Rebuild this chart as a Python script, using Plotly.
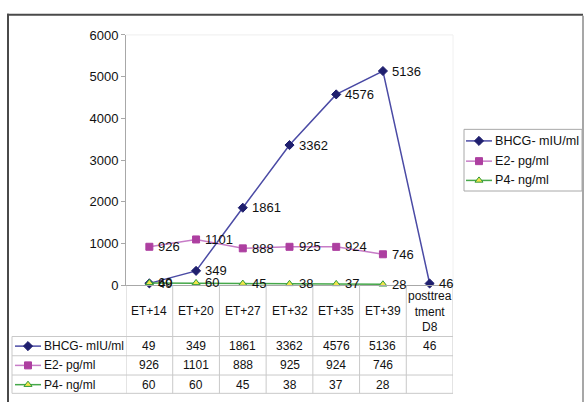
import plotly.graph_objects as go

W, H = 585, 410

categories = ["ET+14", "ET+20", "ET+27", "ET+32", "ET+35", "ET+39", "posttreatment D8"]
header_labels = ["ET+14", "ET+20", "ET+27", "ET+32", "ET+35", "ET+39", "posttrea<br>tment<br>D8"]
series_names = ["BHCG- mIU/ml", "E2- pg/ml", "P4- ng/ml"]
bhcg = [49, 349, 1861, 3362, 4576, 5136, 46]
e2 = [926, 1101, 888, 925, 924, 746, None]
p4 = [60, 60, 45, 38, 37, 28, None]
y_ticks = [0, 1000, 2000, 3000, 4000, 5000, 6000]

FONT = "Liberation Sans, Arial, sans-serif"
line_colors = ["#4b4ba5", "#c77cc7", "#45a84a"]
marker_colors = ["#1f1f6e", "#ad3fa0", "#f2e64a"]
symbols = ["diamond", "square", "triangle-up"]
marker_lines = [None, None, "#2f9a3a"]
series_vals = [bhcg, e2, p4]


def px(x):
    return x / W


def py(y):
    return 1 - y / H


fig = go.Figure()

annotations = []

for name, vals, lc, mc, sym, ml in zip(series_names, series_vals, line_colors, marker_colors, symbols, marker_lines):
    fig.add_trace(go.Scatter(
        x=categories, y=vals, name=name, mode="lines+markers",
        line=dict(color=lc, width=1.5),
        marker=dict(symbol=sym, size=7, color=mc,
                    line=dict(color=ml if ml else mc, width=1)),
        cliponaxis=False, showlegend=False,
        xaxis="x", yaxis="y",
    ))
    for cat, v in zip(categories, vals):
        if v is None:
            continue
        annotations.append(dict(x=cat, y=v, xref="x", yref="y", text=str(v), showarrow=False,
                                xanchor="left", yanchor="middle", xshift=7,
                                font=dict(family=FONT, size=13, color="#111")))


def add_key(x0, x1, ky, lc, mc, sym, ml):
    fig.add_trace(go.Scatter(
        x=[x0, x1], y=[ky, ky], mode="lines", line=dict(color=lc, width=1.5),
        showlegend=False, hoverinfo="skip", xaxis="x2", yaxis="y2"))
    fig.add_trace(go.Scatter(
        x=[(x0 + x1) / 2], y=[ky], mode="markers",
        marker=dict(symbol=sym, size=7, color=mc, line=dict(color=ml if ml else mc, width=1)),
        showlegend=False, hoverinfo="skip", xaxis="x2", yaxis="y2"))


# keys inside the data table and in the legend box (decorative, pixel axis)
key_rows = [352, 372, 392]
legend_rows = [139, 160, 180]
for name, lc, mc, sym, ml, ky, ly in zip(series_names, line_colors, marker_colors, symbols, marker_lines,
                                          key_rows, legend_rows):
    add_key(15, 41, ky, lc, mc, sym, ml)
    add_key(466, 492, ly, lc, mc, sym, ml)
    annotations.append(dict(x=px(493), xref="paper", y=py(ly), yref="paper", text=name, showarrow=False,
                            font=dict(family=FONT, size=12.6, color="#111"), xanchor="left", yanchor="middle"))

plot_l, plot_r, plot_t, plot_b = 126, 453, 29, 289
row_lines = [342, 362, 382, 401]
grid = "#c9c9c9"

shapes = []
# outer frame
shapes.append(dict(type="line", xref="paper", yref="paper", x0=px(8), x1=px(8), y0=py(7), y1=py(410),
                   line=dict(color="#4a4a4a", width=2)))
shapes.append(dict(type="line", xref="paper", yref="paper", x0=px(7), x1=px(583), y0=py(8), y1=py(8),
                   line=dict(color="#4a4a4a", width=2)))
shapes.append(dict(type="line", xref="paper", yref="paper", x0=px(583), x1=px(583), y0=py(9), y1=py(410),
                   line=dict(color="#8a8a8a", width=1.5)))
# legend box
shapes.append(dict(type="rect", xref="paper", yref="paper", x0=px(464), x1=px(582), y0=py(127), y1=py(191),
                   line=dict(color="#a8a8a8", width=1)))
# faint plot area edges
shapes.append(dict(type="line", xref="paper", yref="paper", x0=px(plot_l), x1=px(plot_r), y0=py(plot_t), y1=py(plot_t),
                   line=dict(color="#eeeeee", width=1)))
shapes.append(dict(type="line", xref="paper", yref="paper", x0=px(plot_r), x1=px(plot_r), y0=py(plot_t), y1=py(plot_b),
                   line=dict(color="#f0f0f0", width=1)))
# table horizontal lines
for ry in row_lines:
    shapes.append(dict(type="line", xref="paper", yref="paper", x0=px(12), x1=px(plot_r), y0=py(ry), y1=py(ry),
                       line=dict(color=grid, width=1)))
# table vertical lines at category boundaries
for i in range(len(categories) + 1):
    shapes.append(dict(type="line", xref="x", yref="paper", x0=i - 0.5, x1=i - 0.5, y0=py(plot_b), y1=py(row_lines[-1]),
                       line=dict(color=grid, width=1)))
shapes.append(dict(type="line", xref="paper", yref="paper", x0=px(12), x1=px(12), y0=py(row_lines[0]), y1=py(row_lines[-1]),
                   line=dict(color=grid, width=1)))

for cat, lab in zip(categories, header_labels):
    annotations.append(dict(x=cat, xref="x", y=py(316), yref="paper", text=lab, showarrow=False,
                            font=dict(family=FONT, size=12, color="#111"),
                            xanchor="center", yanchor="middle", align="center"))
for name, vals, ky in zip(series_names, series_vals, key_rows):
    annotations.append(dict(x=px(42), xref="paper", y=py(ky), yref="paper", text=name, showarrow=False,
                            font=dict(family=FONT, size=12, color="#111"), xanchor="left", yanchor="middle"))
    for cat, v in zip(categories, vals):
        if v is None:
            continue
        annotations.append(dict(x=cat, xref="x", y=py(ky), yref="paper", text=str(v), showarrow=False,
                                font=dict(family=FONT, size=12, color="#111"), xanchor="center", yanchor="middle"))

fig.update_layout(
    width=W, height=H,
    margin=dict(l=0, r=0, t=0, b=0),
    paper_bgcolor="white", plot_bgcolor="rgba(0,0,0,0)",
    font=dict(family=FONT, size=13, color="#111"),
    xaxis=dict(domain=[px(plot_l), px(plot_r)], type="category", range=[-0.5, 6.5],
               showticklabels=False, ticks="", showgrid=False, zeroline=False,
               showline=True, linecolor="#a8a8a8", linewidth=1, anchor="y", fixedrange=True),
    yaxis=dict(domain=[py(plot_b), py(plot_t)], range=[0, 6000], tickvals=y_ticks,
               ticks="outside", ticklen=4, tickcolor="#a8a8a8", showgrid=False, zeroline=False,
               showline=True, linecolor="#a8a8a8", linewidth=1, anchor="x",
               tickfont=dict(family=FONT, size=13, color="#111")),
    xaxis2=dict(domain=[0, 1], range=[0, W], visible=False, anchor="y2", fixedrange=True),
    yaxis2=dict(domain=[0, 1], range=[H, 0], visible=False, anchor="x2", fixedrange=True),
    shapes=shapes, annotations=annotations,
    showlegend=False,
)

fig.write_html("out.html", config={"displayModeBar": False},
               post_script="document.body.style.margin='0px';")
